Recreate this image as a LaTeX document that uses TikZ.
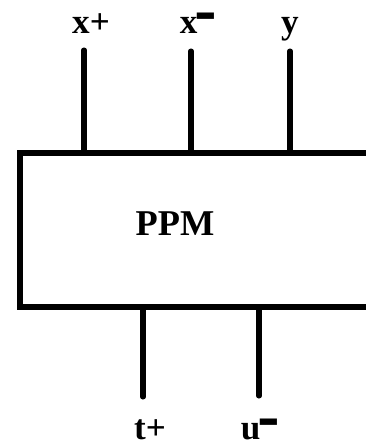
\documentclass[tikz,border=0pt]{standalone}
\usepackage{fontspec}
\setmainfont{Liberation Serif}
\usetikzlibrary{calc}

\newcommand{\supminus}{\smash{\raisebox{-0.12em}{\scalebox{0.95}[2.6]{–}}}}

\tikzset{
  pin/.style={line width=4.3pt, line cap=round},
  pinlabel/.style={font=\fontsize{30}{30}\selectfont\bfseries, inner sep=0pt, anchor=base},
}

\begin{document}
\begin{tikzpicture}[x=0.03cm, y=-0.03cm]
      \useasboundingbox (0,0) rectangle (366,441);
      \clip (0,0) rectangle (366,441);

      % 1. the block
      \coordinate (bl) at (20,307);
      \coordinate (tr) at (380,153);
      \draw[line width=4.3pt] (tr) -| (bl) -- (bl -| tr);
      \node[font=\fontsize{31}{31}\selectfont\bfseries, inner sep=0pt] (ppm) at (175,224) {PPM};

      % 2. top pins
      \node[pinlabel] (xp) at (91,33) {x+};
      \node[pinlabel] (xm) at (197,33) {x\supminus};
      \node[pinlabel] (y) at (290,33) {y};
      \coordinate (xp_1) at (84,50);
      \coordinate (xm_1) at (191,51);
      \coordinate (y_1) at (290,51);
      \draw[pin] (xp_1) -- (xp_1 |- tr);
      \draw[pin] (xm_1) -- (xm_1 |- tr);
      \draw[pin] (y_1) -- (y_1 |- tr);

      % 3. bottom pins
      \node[pinlabel] (tp) at (150,439) {t+};
      \node[pinlabel] (um) at (259,439) {u\supminus};
      \coordinate (tp_1) at (143,397);
      \coordinate (um_1) at (259,396);
      \draw[pin] (tp_1) -- (tp_1 |- bl);
      \draw[pin] (um_1) -- (um_1 |- bl);
\end{tikzpicture}
\end{document}
